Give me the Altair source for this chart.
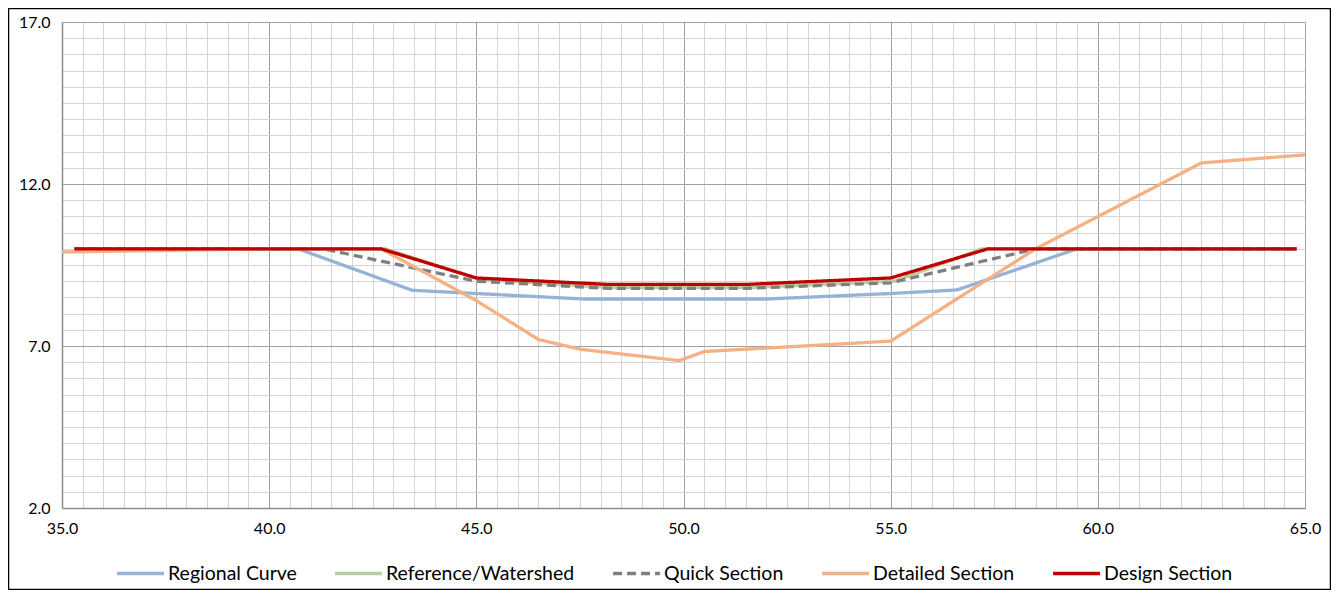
import altair as alt
import pandas as pd

names = ["Regional Curve", "Reference/Watershed", "Quick Section", "Detailed Section", "Design Section"]
colors = ["#95B3D7", "#B9CC9C", "#7F7F7F", "#F4B183", "#C00000"]
dashes = [[1, 0], [1, 0], [9, 5], [1, 0], [1, 0]]
widths = [3.3, 3.3, 3.3, 3.3, 4.3]

regional_x = [35.3, 40.7, 43.45, 45.0, 47.6, 52.0, 55.0, 56.6, 59.5, 64.8]
regional_y = [10.0, 10.0, 8.72, 8.62, 8.45, 8.45, 8.62, 8.73, 10.0, 10.0]

reference_x = [35.3, 42.8, 45.1, 48.3, 51.5, 55.1, 57.2, 64.8]
reference_y = [10.0, 10.0, 9.05, 8.8, 8.8, 9.0, 10.0, 10.0]

quick_x = [35.3, 41.3, 45.0, 48.2, 51.5, 55.0, 58.5, 64.8]
quick_y = [10.0, 10.0, 9.0, 8.78, 8.78, 8.95, 10.0, 10.0]

detailed_x = [35.0, 40.0, 42.7, 45.0, 46.5, 47.5, 49.9, 50.5, 55.0, 58.5, 62.5, 65.0]
detailed_y = [9.9, 10.0, 10.0, 8.4, 7.2, 6.9, 6.55, 6.83, 7.15, 10.0, 12.65, 12.9]

design_x = [35.3, 42.7, 45.0, 48.2, 51.5, 55.0, 57.35, 64.8]
design_y = [10.0, 10.0, 9.1, 8.9, 8.9, 9.1, 10.0, 10.0]

series_x = [regional_x, reference_x, quick_x, detailed_x, design_x]
series_y = [regional_y, reference_y, quick_y, detailed_y, design_y]

rows = []
for n, xs, ys in zip(names, series_x, series_y):
    for i, (xv, yv) in enumerate(zip(xs, ys)):
        rows.append({"series": n, "x": xv, "y": yv, "idx": i})
df = pd.DataFrame(rows)

grid_x = [35 + 0.5 * i for i in range(61)]
grid_y = [2 + 0.5 * i for i in range(31)]

FONT = "Lato"
W, H = 1243, 486

legend = alt.Legend(
    title=None, orient="none", direction="horizontal", legendX=53, legendY=526,
    symbolType="stroke", symbolSize=2200, labelFont=FONT, labelFontSize=19.5,
    labelColor="#000000", columnPadding=31, labelOffset=2, columns=5, labelLimit=400,
)

lines = alt.Chart(df).mark_line().encode(
    x=alt.X("x:Q", scale=alt.Scale(domain=[35, 65], nice=False, zero=False),
            axis=alt.Axis(values=grid_x, title=None, ticks=False,
                          labelExpr="datum.value % 5 === 0 ? format(datum.value, '.1f') : ''",
                          gridColor={"condition": {"test": "datum.value % 5 === 0", "value": "#A0A0A0"}, "value": "#D4D4D4"},
                          domainColor="#8C8C8C", domainWidth=1.5, labelFont=FONT, labelFontSize=16,
                          labelColor="#000000", labelPadding=12, labelFlush=False, labelOverlap=False)),
    y=alt.Y("y:Q", scale=alt.Scale(domain=[2, 17], nice=False, zero=False),
            axis=alt.Axis(values=grid_y, title=None, ticks=False,
                          labelExpr="(datum.value - 2) % 5 === 0 ? format(datum.value, '.1f') : ''",
                          gridColor={"condition": {"test": "(datum.value - 2) % 5 === 0", "value": "#A0A0A0"}, "value": "#D4D4D4"},
                          domainColor="#8C8C8C", domainWidth=1.5, labelFont=FONT, labelFontSize=16,
                          labelColor="#000000", labelPadding=12, labelFlush=False, labelOverlap=False)),
    color=alt.Color("series:N", scale=alt.Scale(domain=names, range=colors), legend=legend),
    strokeDash=alt.StrokeDash("series:N", scale=alt.Scale(domain=names, range=dashes), legend=legend),
    strokeWidth=alt.StrokeWidth("series:N", scale=alt.Scale(domain=names, range=widths), legend=legend),
    order="idx:Q",
)

border = alt.Chart(pd.DataFrame({"a": [0]})).mark_rect(fill=None, stroke="#000000", strokeWidth=1.5).encode(
    x=alt.value(-53.5), x2=alt.value(1268.5), y=alt.value(-13.5), y2=alt.value(567.5)
)

chart = alt.layer(lines, border).properties(
    width=W, height=H,
    autosize=alt.AutoSizeParams(type="none"),
    padding={"left": 54, "top": 14, "right": 26, "bottom": 82},
).configure_view(stroke=None)

chart.save("out.html", embed_options={"renderer": "svg", "actions": False})
